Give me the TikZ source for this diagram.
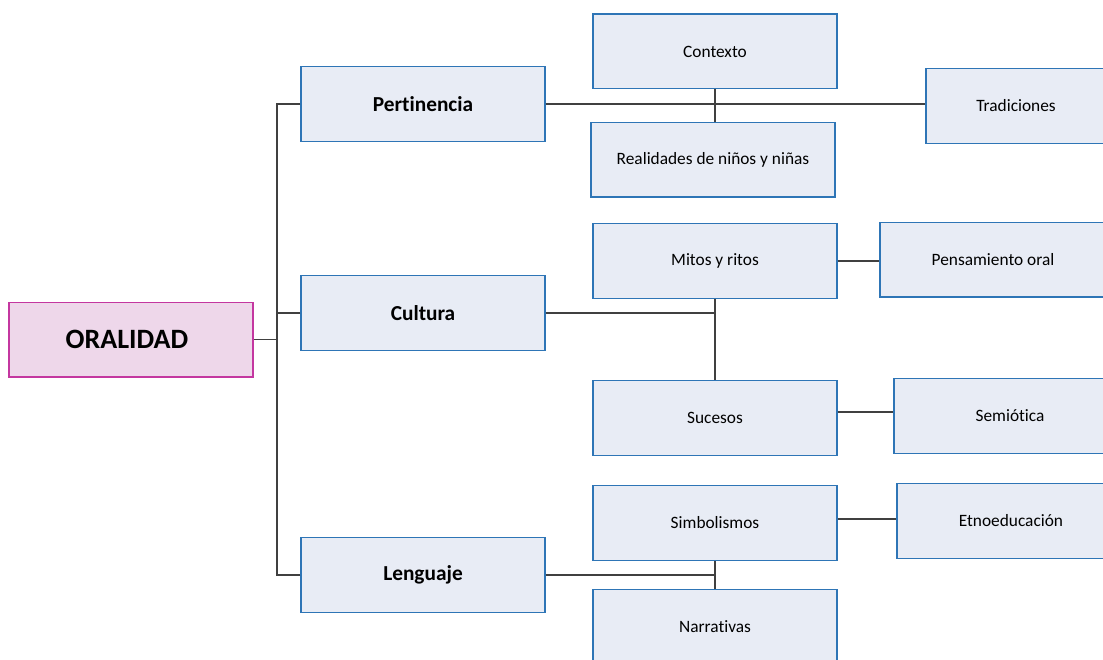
\documentclass[tikz,border=0pt]{standalone}
\usepackage{fontspec}
\setmainfont{Carlito}[Ligatures={NoCommon}]
\usepackage{xcolor}
\definecolor{boxfill}{RGB}{232,236,245}
\definecolor{boxline}{RGB}{46,117,182}
\definecolor{rootfill}{RGB}{238,215,234}
\definecolor{rootline}{RGB}{196,55,160}
\definecolor{linkgray}{RGB}{64,64,64}

\begin{document}
\begin{tikzpicture}[x=0.75pt,y=-0.75pt,
    box/.style={draw=boxline, fill=boxfill, line width=1pt, inner sep=0pt,
        minimum width=183pt, minimum height=56pt, font=\fontsize{13}{15}\selectfont},
    mainbox/.style={box, font=\fontsize{16}{19}\selectfont\bfseries},
    rootbox/.style={box, draw=rootline, fill=rootfill, font=\fontsize{21}{24}\selectfont\bfseries},
    link/.style={draw=linkgray, line width=1.1pt}]
    \useasboundingbox (0,0) rectangle (1103,660);
    \clip (0,0) rectangle (1103,660);

    % Draw root and main branches
    \node[rootbox] (oral) at (131,339.5) {\hspace*{-6pt}ORALIDAD};
    \node[mainbox] (pert) at (423,104) {Pertinencia};
    \node[mainbox] (cult) at (423,313) {Cultura};
    \node[mainbox] (leng) at (423,575) {Lenguaje};

    % Draw second level
    \node[box] (ctx) at (715,51.5) {Contexto};
    \node[box] (real) at (713,159.5) {Realidades de niños y niñas};
    \node[box, minimum width=135pt] (trad) at (1016,106) {Tradiciones};
    \node[box] (mitos) at (715,261) {Mitos y ritos};
    \node[box, minimum width=169.5pt] (pens) at (993,259.5) {Pensamiento oral};
    \node[box] (suc) at (715,418) {Sucesos};
    \node[box, minimum width=174pt] (semi) at (1010,416) {Semiótica};
    \node[box] (simb) at (715,523) {Simbolismos};
    \node[box, minimum width=171pt] (etno) at (1011,521) {Etnoeducación};
    \node[box] (narr) at (715,627) {Narrativas};

    % Draw trunk
    \coordinate (tr) at (277,339.5);
    \draw[link] (oral.east) -- (tr);
    \draw[link] (pert.west) -| (tr);
    \draw[link] (leng.west) -| (tr);
    \draw[link] (cult.west) -| (tr);

    % Draw branch links
    \draw[link] (pert.east) -- (pert.east -| trad.west);
    \draw[link] (ctx.south) -- (ctx.south |- real.north);
    \draw[link] (cult.east) -- (cult.east -| mitos.south);
    \draw[link] (mitos.south) -- (suc.north);
    \draw[link] (leng.east) -- (leng.east -| simb.south);
    \draw[link] (simb.south) -- (narr.north);
    \draw[link] (mitos.east) -- (mitos.east -| pens.west);
    \draw[link] ([yshift=4.5pt]suc.east) -- ([yshift=4.5pt]suc.east -| semi.west);
    \draw[link] ([yshift=3pt]simb.east) -- ([yshift=3pt]simb.east -| etno.west);
\end{tikzpicture}
\end{document}
